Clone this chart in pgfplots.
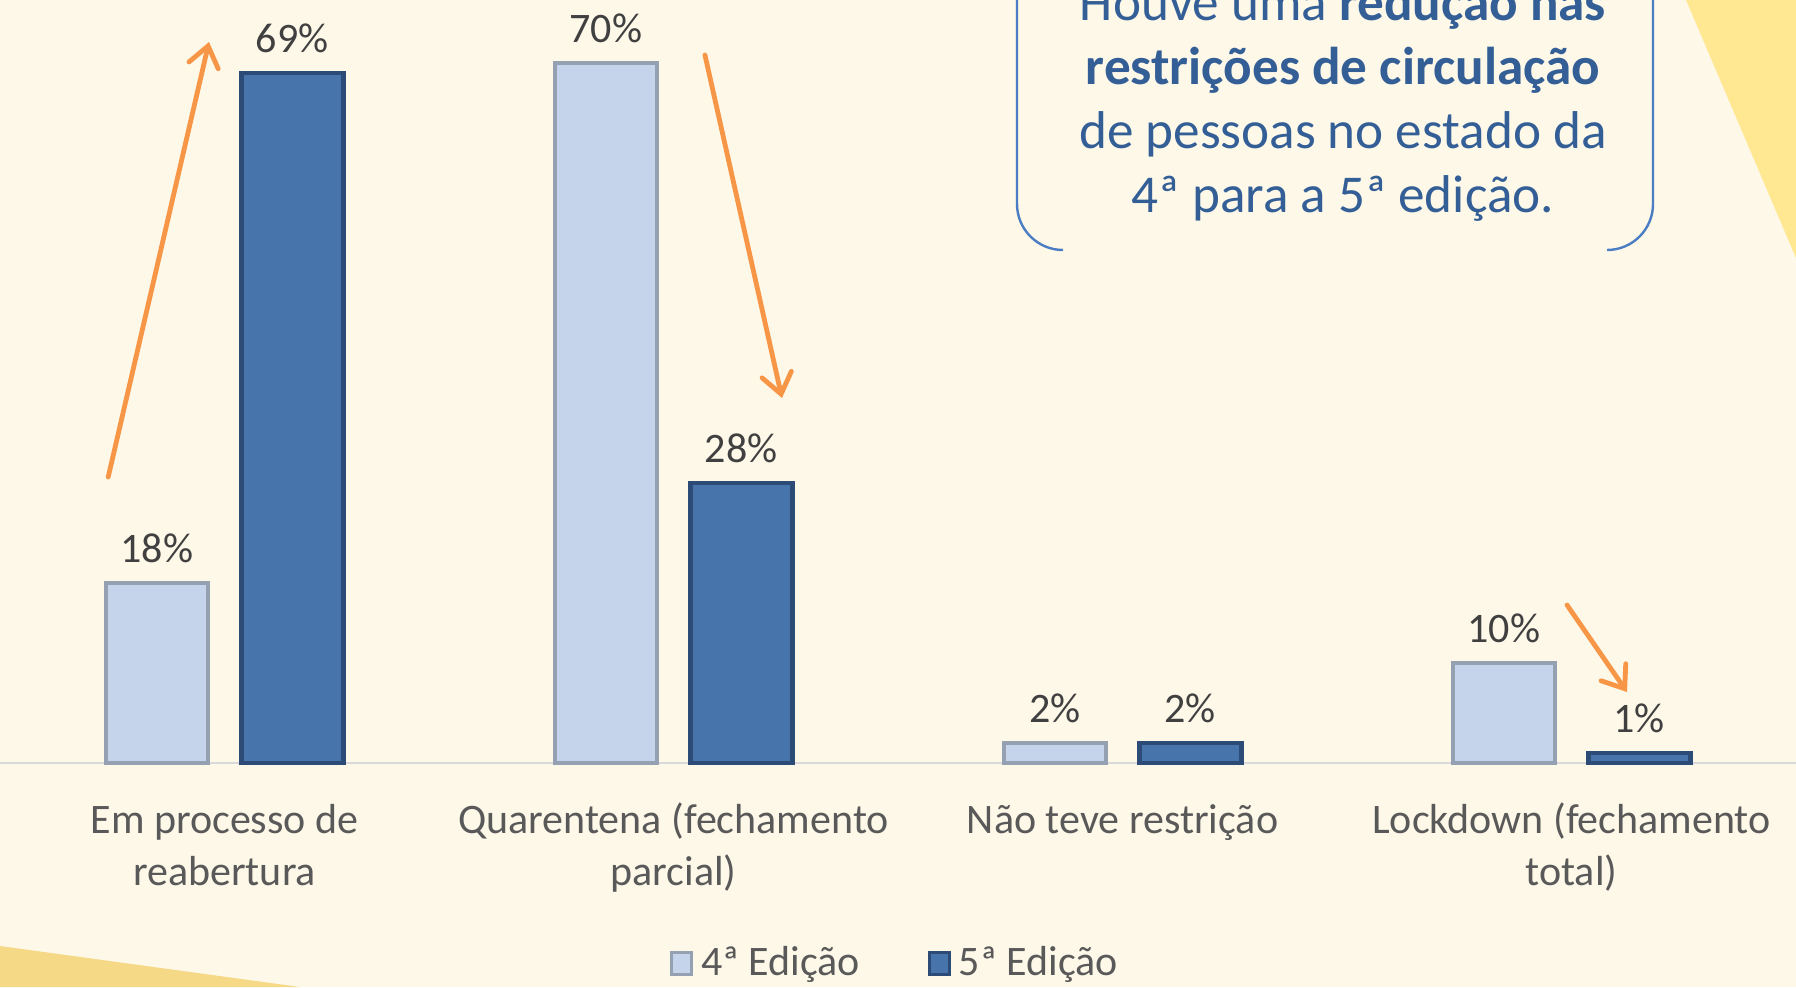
\documentclass[border=0pt]{standalone}
\usepackage{fontspec}
\setmainfont{Carlito}
\usepackage{pgfplots}
\pgfplotsset{compat=1.18}
\usetikzlibrary{arrows.meta}
\definecolor{bg}{HTML}{FEF8E9}
\definecolor{yelT}{HTML}{FFE891}
\definecolor{yelB}{HTML}{F5D987}
\definecolor{boxblue}{HTML}{4A7DC4}
\definecolor{boxtext}{HTML}{335F96}
\definecolor{arrowor}{HTML}{F79646}
\definecolor{lightbar}{HTML}{C5D4EA}
\definecolor{lightedge}{HTML}{95A1B3}
\definecolor{darkbar}{HTML}{4774AA}
\definecolor{darkedge}{HTML}{2C4C77}
\definecolor{axisgray}{HTML}{D9D9D9}
\definecolor{labgray}{HTML}{595959}
\definecolor{datgray}{HTML}{404040}
\begin{document}
\begin{tikzpicture}
\useasboundingbox (0,0) rectangle (449pt,246.75pt);
\clip (0,0) rectangle (449pt,246.75pt);
\fill[bg] (0,0) rectangle (449pt,246.75pt);
\begin{scope}[x=0.25pt,y=-0.25pt,yshift=246.75pt]
  \fill[yelT] (1686,0) -- (1796,0) -- (1796,258) -- cycle;
  \fill[yelB] (0,946) -- (300,987) -- (0,987) -- cycle;
  \draw[boxblue, line width=0.6pt, rounded corners=11.5pt] (1063,250) -- (1017,250) -- (1017,-60);
  \draw[boxblue, line width=0.6pt, rounded corners=11.5pt] (1607,250) -- (1653,250) -- (1653,-60);
  \begin{scope}[every node/.style={anchor=base, inner sep=0, text=boxtext, font=\fontsize{13.3}{16}\selectfont}]
    \node at (1343,21) {Houve uma \textbf{redução nas}};
    \node at (1343,85) {\textbf{restrições de circulação}};
    \node at (1343,149) {de pessoas no estado da};
    \node at (1343,213) {4ª para a 5ª edição.};
  \end{scope}
\end{scope}
\begin{axis}[
  at={(0pt,56pt)}, anchor=south west,
  scale only axis, width=449pt, height=190.75pt,
  xmin=-0.5, xmax=3.5, ymin=0, ymax=76.3,
  enlargelimits=false, clip=false,
  axis y line=none, axis x line*=bottom,
  x axis line style={draw=axisgray, line width=0.5pt, -},
  ytick=\empty,
  xtick={0,1,2,3},
  xticklabels={{Em processo de\\reabertura},{Quarentena (fechamento\\parcial)},{Não teve restrição},{Lockdown (fechamento\\total)}},
  major tick length=0pt,
  typeset ticklabels with strut,
  xticklabel style={align=center, anchor=north, inner sep=0pt, yshift=-8.4pt, text=labgray, font=\fontsize{10.5}{12.9}\selectfont},
  /pgf/number format/assume math mode=true,
  ybar, bar width=25.5pt,
  nodes near coords={\pgfmathprintnumber[assume math mode=true]{\pgfplotspointmeta}\%},
  nodes near coords style={inner sep=0pt, yshift=4.5pt, text=datgray, font=\fontsize{10.5}{12.9}\selectfont},
  legend columns=2,
  legend style={at={(0.5,-0.2582)}, anchor=center, yshift=-0.9pt, draw=none, fill=none, inner sep=0pt,
    font=\fontsize{10.5}{12.9}\selectfont, text=labgray,
    /tikz/every even column/.append style={column sep=15pt}},
]
\addplot[fill=lightbar, draw=lightedge, line width=1.2pt, bar shift=-16.9pt,
  legend image code/.code={\draw[fill=lightbar, draw=lightedge, line width=0.7pt] (0pt,-2.7pt) rectangle (5pt,2.7pt);}]
  coordinates {(0,18) (1,70) (2,2) (3,10)};
\addplot[fill=darkbar, draw=darkedge, line width=1.2pt, bar shift=16.9pt,
  legend image code/.code={\draw[fill=darkbar, draw=darkedge, line width=0.7pt] (0pt,-2.7pt) rectangle (5pt,2.7pt);}]
  coordinates {(0,69) (1,28) (2,2) (3,1)};
\legend{4ª Edição,5ª Edição}
\draw[arrowor, line width=1.2pt, line cap=round, -{Straight Barb[length=5pt,width=7.5pt,line cap=round]}] (axis cs:-0.259,28.6) -- (axis cs:-0.0345,72.1);
\draw[arrowor, line width=1.2pt, line cap=round, -{Straight Barb[length=5pt,width=7.5pt,line cap=round]}] (axis cs:1.070,70.8) -- (axis cs:1.2416,36.5);
\draw[arrowor, line width=1.2pt, line cap=round, -{Straight Barb[length=5pt,width=7.5pt,line cap=round]}] (axis cs:2.990,15.8) -- (axis cs:3.1236,7.1);
\end{axis}
\end{tikzpicture}
\end{document}
